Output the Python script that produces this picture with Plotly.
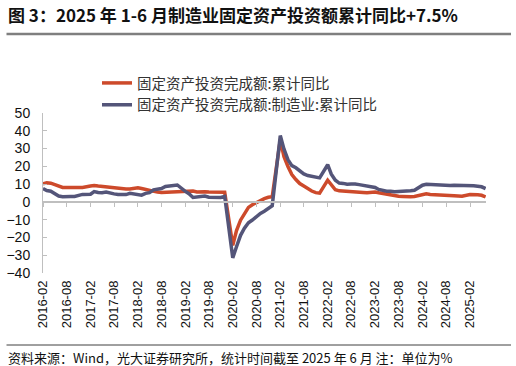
import plotly.graph_objects as go

# Monthly dates (Feb-Dec each year; Jan merged into Feb in Chinese stats)
years = list(range(2016, 2026))
dates = []
for y in years:
    for m in range(2, 13):
        if y == 2025 and m > 6:
            break
        dates.append(f"{y}-{m:02d}-01")

fai_total = [
    10.2, 10.7, 10.5, 9.6, 9.0, 8.1, 8.1, 8.2, 8.3, 8.3, 8.1,
    8.9, 9.2, 8.9, 8.6, 8.6, 8.3, 7.8, 7.5, 7.3, 7.2, 7.2,
    7.9, 7.5, 7.0, 6.1, 6.0, 5.5, 5.3, 5.4, 5.7, 5.9, 5.9,
    6.1, 6.3, 6.1, 5.6, 5.8, 5.7, 5.5, 5.4, 5.2, 5.2, 5.4,
    -24.5, -16.1, -10.3, -6.3, -3.1, -1.6, -0.3, 0.8, 1.8, 2.6, 2.9,
    35.0, 25.6, 19.9, 15.4, 12.6, 10.3, 8.9, 7.3, 6.1, 5.2, 4.9,
    12.2, 9.3, 6.8, 6.2, 6.1, 5.7, 5.8, 5.9, 5.8, 5.3, 5.1,
    5.5, 5.1, 4.7, 4.0, 3.8, 3.4, 3.2, 3.1, 2.9, 2.9, 3.0,
    4.2, 4.5, 4.2, 4.0, 3.9, 3.6, 3.4, 3.4, 3.4, 3.3, 3.2,
    4.1, 4.2, 4.0, 3.7, 2.8,
]
fai_manu = [
    7.5, 6.4, 6.0, 4.6, 3.3, 2.9, 2.8, 3.1, 3.1, 3.6, 4.2,
    4.3, 5.8, 5.3, 5.1, 5.5, 4.8, 4.5, 4.2, 4.1, 4.1, 4.8,
    4.3, 3.8, 4.8, 5.2, 6.8, 7.3, 7.5, 8.7, 9.1, 9.5, 9.5,
    5.9, 4.6, 2.5, 2.7, 3.0, 3.3, 2.6, 2.5, 2.6, 2.5, 3.1,
    -31.5, -25.2, -18.8, -14.8, -11.7, -10.2, -8.1, -6.5, -5.3, -3.5, -2.2,
    37.3, 29.8, 23.8, 20.4, 19.2, 17.3, 15.7, 14.8, 14.2, 13.7, 13.5,
    20.9, 15.6, 12.2, 10.6, 10.4, 9.9, 10.0, 10.1, 9.7, 9.3, 9.1,
    8.1, 7.0, 6.4, 6.0, 6.0, 5.7, 5.9, 6.2, 6.2, 6.3, 6.5,
    9.4, 9.9, 9.7, 9.6, 9.5, 9.3, 9.1, 9.2, 9.3, 9.3, 9.2,
    9.0, 9.1, 8.8, 8.5, 7.5,
]

tick_labels = [f"{y}-{m:02d}" for y in range(2016, 2026) for m in (2, 8) if not (y == 2025 and m == 8)]
tick_vals = [t + "-01" for t in tick_labels]

name_total = "固定资产投资完成额:累计同比"
name_manu = "固定资产投资完成额:制造业:累计同比"
title_text = "图 3：2025 年 1-6 月制造业固定资产投资额累计同比+7.5%"
source_text = "资料来源：Wind，光大证券研究所，统计时间截至 2025 年 6 月 注：单位为%"

RED = "#CD4A2B"
PURPLE = "#545579"
CJK = "Noto Sans CJK SC"
NUM = "Liberation Sans, Arial"

# plot area in pixels: x 43..486, y 113..273
L, R, T, B = 43, 486, 113, 273
PW, PH = R - L, B - T


def px(x):
    return (x - L) / PW


def py(y):
    return (B - y) / PH


fig = go.Figure()
fig.add_trace(go.Scatter(x=dates, y=fai_total, name=name_total, mode="lines",
                         line=dict(color=RED, width=3.5)))
fig.add_trace(go.Scatter(x=dates, y=fai_manu, name=name_manu, mode="lines",
                         line=dict(color=PURPLE, width=3.5)))

xr = ["2016-02-01", "2025-06-04"]
fig.update_layout(
    width=516, height=366,
    margin=dict(l=L, r=516 - R, t=T, b=366 - B, autoexpand=False),
    paper_bgcolor="white", plot_bgcolor="white",
    showlegend=True,
    legend=dict(
        x=px(97), xanchor="left",
        y=py(67), yanchor="top",
        font=dict(family=CJK, size=14.5, color="#333333"),
        bgcolor="rgba(0,0,0,0)", tracegroupgap=0, itemwidth=30,
    ),
    title=dict(text=title_text, x=8 / 516, xref="container", xanchor="left",
               y=1 - 16 / 366, yref="container", yanchor="middle",
               font=dict(family=CJK, size=17, color="#111111", weight="bold")),
    xaxis=dict(type="date", range=xr, tickvals=tick_vals, ticktext=tick_labels,
               tickangle=-90, showline=False, ticks="", showgrid=False, zeroline=False,
               tickfont=dict(family=NUM, size=13, color="#111111"),
               ticklabelstandoff=4),
    xaxis2=dict(type="date", range=xr, overlaying="x", anchor="free",
                position=40 / 90, side="bottom", tickvals=tick_vals,
                showticklabels=False, showline=True, linecolor="#BFBFBF", linewidth=1.5,
                ticks="outside", ticklen=4, tickcolor="#BFBFBF", showgrid=False,
                zeroline=False),
    yaxis=dict(range=[-40, 50], dtick=10, showline=True, linecolor="#BFBFBF",
               ticks="inside", ticklen=4, tickcolor="#BFBFBF", showgrid=False,
               zeroline=False, tickfont=dict(family=NUM, size=14, color="#111111"),
               ticklabelstandoff=9),
)

# invisible trace on xaxis2 so the zero-line axis renders
fig.add_trace(go.Scatter(x=[dates[0]], y=[0], xaxis="x2", mode="markers",
                         marker=dict(opacity=0), showlegend=False, hoverinfo="skip"))

# horizontal rules under the title and above the source note, drawn as arrow-less annotation lines
for yy, col, w in ((34, "#7F7F7F", 2.5), (345, "#404040", 1)):
    fig.add_annotation(text="", xref="paper", yref="paper", x=px(511), y=py(yy),
                       showarrow=True, arrowhead=0, axref="pixel", ayref="pixel",
                       ax=-506, ay=0, arrowcolor=col, arrowwidth=w, standoff=0,
                       startstandoff=0)

fig.add_annotation(text=source_text, xref="paper", yref="paper",
                   x=px(6), y=py(357), xanchor="left", yanchor="middle",
                   showarrow=False, font=dict(family=CJK, size=13, color="#111111"))

fig.write_html("out.html", config={"displayModeBar": False},
               post_script="document.body.style.margin='0';document.body.style.overflow='hidden';")
